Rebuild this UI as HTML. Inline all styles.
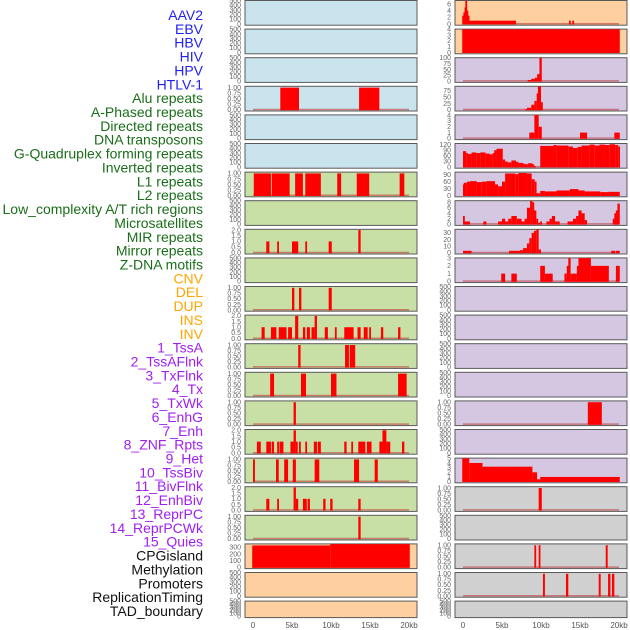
<!DOCTYPE html>
<html><head><meta charset="utf-8"><style>
html,body{margin:0;padding:0;background:#fff;width:630px;height:630px;overflow:hidden}
svg{display:block;font-family:"Liberation Sans",sans-serif}
</style></head><body>
<svg id="chart" width="630" height="630" viewBox="0 0 630 630" xmlns="http://www.w3.org/2000/svg">
<g id="labels"></g>
<g id="panels"></g>
<g id="xaxes"></g>
</svg>
<script>
// ---- labels ----
const trackLabels = ["AAV2","EBV","HBV","HIV","HPV","HTLV-1","Alu repeats","A-Phased repeats","Directed repeats","DNA transposons","G-Quadruplex forming repeats","Inverted repeats","L1 repeats","L2 repeats","Low_complexity A/T rich regions","Microsatellites","MIR repeats","Mirror repeats","Z-DNA motifs","CNV","DEL","DUP","INS","INV","1_TssA","2_TssAFlnk","3_TxFlnk","4_Tx","5_TxWk","6_EnhG","7_Enh","8_ZNF_Rpts","9_Het","10_TssBiv","11_BivFlnk","12_EnhBiv","13_ReprPC","14_ReprPCWk","15_Quies","CPGisland","Methylation","Promoters","ReplicationTiming","TAD_boundary"];
const labelGroups = [6,13,5,15,5];
const xTickValues = [0,5,10,15,20];
const xTickLabels = ["0","5kb","10kb","15kb","20kb"];

// ---- left column data: [startKb, endKb, value] ----
const leftAlu = [[3.5,5.9,1],[13.6,16.2,1]];
const leftL1 = [[0.1,2.3,1],[2.4,4.7,1],[5.4,6.4,1],[6.7,8.7,1],[10.8,11.3,1],[13.3,14.9,1],[18.8,19.4,1]];
const leftRow8 = [[1.7,2.1,1],[3.1,3.3,1],[5.0,5.8,1],[6.7,6.9,1],[9.7,10.1,1],[13.5,13.8,2]];
const leftRow10 = [[5.0,5.3,1],[5.9,6.2,1],[9.7,10.1,1]];
const leftRow11 = [[1.1,1.5,1],[2.3,3.0,1],[3.3,4.3,1],[4.5,5.0,1],[5.4,5.8,2],[6.4,6.7,1],[6.9,7.3,1],[7.5,7.9,1],[7.9,8.2,2],[9.2,9.6,1],[10.5,10.7,1],[11.7,12.9,1],[13.4,13.8,1],[14.2,14.7,1],[14.9,15.1,1],[16.4,16.7,1],[18.6,18.9,1]];
const leftRow12 = [[5.8,6.1,1],[11.8,12.3,1],[12.4,13.1,1]];
const leftRow13 = [[2.2,2.7,1],[6.15,6.8,1],[10.0,10.7,1],[18.6,19.7,1]];
const leftRow14 = [[5.2,5.5,1]];
const leftRow15 = [[0.5,1.0,1],[1.7,2.3,1],[2.4,2.7,1],[3.1,3.3,1],[3.4,3.9,1],[4.8,5.2,1],[5.2,5.5,2],[5.5,5.7,1],[5.9,6.1,1],[6.7,6.9,1],[7.8,8.2,1],[8.3,8.7,1],[11.7,12.0,1],[12.6,12.8,1],[13.5,14.4,1],[14.6,15.2,1],[16.2,16.6,1],[16.6,17.1,2],[17.1,17.6,1],[19.1,19.4,1]];
const leftRow16 = [[0,0.25,1],[2.95,3.3,1],[4.0,4.5,1],[5.1,5.5,1],[7.9,8.5,1],[12.95,13.6,1],[15.6,16.0,1]];
const leftRow17 = [[1.7,2.1,1],[3.1,3.3,1],[5.2,5.5,2],[5.5,5.8,1],[6.4,6.9,1],[7.0,7.3,1],[9.0,9.3,1],[9.9,10.2,1],[13.5,13.8,1]];
const leftRow18 = [[13.5,13.8,1]];
const leftCpg = [[-0.1,9.9,330],[9.9,20.1,350]];

// ---- right column data ----
const rightAav2 = [[-0.1,0.05,2.5],[0.05,0.2,3.5],[0.2,0.3,5],[0.3,0.45,7],[0.45,0.6,4],[0.6,0.77,2.5],[0.77,6.8,1],[13.6,13.8,1],[14.0,14.2,1]];
const rightEbv = [[-0.1,20.1,4]];
const rightHiv = [[8.3,8.75,5],[8.75,9.2,10],[9.2,9.5,15],[9.5,9.8,30],[9.8,10.1,100]];
const rightHpv = [[8.0,8.2,3],[8.2,8.75,8],[8.75,9.15,20],[9.15,9.45,35],[9.45,9.6,65],[9.6,10.0,92],[10.0,10.1,30]];
const rightHtlv = [[8.5,9.15,1],[9.15,9.7,4],[9.7,10.1,2],[15.0,15.9,1],[19.4,20.1,1]];
const rightG4 = [[0,0.4,85],[0.4,0.6,75],[0.6,1.1,70],[1.1,1.7,78],[1.7,2.2,75],[2.2,2.9,78],[2.9,3.4,72],[3.4,3.8,68],[3.8,4.0,75],[4.0,4.3,90],[4.3,5.1,98],[5.1,5.4,40],[5.4,5.7,30],[5.7,6.2,25],[6.2,6.8,35],[6.8,7.1,28],[7.1,7.7,22],[7.7,7.9,18],[7.9,8.3,15],[8.3,8.9,20],[8.9,9.1,15],[9.1,9.3,5],[9.9,11.6,113],[11.6,12.0,118],[12.0,13.5,115],[13.5,14.1,110],[14.1,14.7,102],[14.7,15.2,108],[15.2,16.2,115],[16.2,16.9,120],[16.9,17.5,115],[17.5,18.2,120],[18.2,18.8,118],[18.8,19.5,122],[19.5,19.9,118],[19.9,20.1,110]];
const rightInverted = [[0,0.1,48],[0.1,0.5,55],[0.5,0.9,60],[0.9,1.75,62],[1.75,2.4,58],[2.4,3.0,60],[3.0,4.1,62],[4.1,4.5,48],[4.5,5.0,40],[5.0,5.4,60],[5.4,6.7,95],[6.7,7.1,92],[7.1,8.2,97],[8.2,8.8,95],[8.8,9.2,70],[9.2,9.4,60],[9.4,9.9,10],[9.9,10.5,20],[10.5,12.0,18],[12.0,13.7,22],[13.7,14.8,28],[14.8,15.6,22],[15.6,17.6,18],[17.6,18.6,15],[18.6,20.1,16]];
const rightLowComplexity = [[0,0.2,3],[0.2,0.9,1],[2.6,3.0,1],[4.5,5.0,1],[5.0,5.4,2],[5.4,5.8,1],[5.8,6.2,2],[6.2,6.9,3],[6.9,7.5,2],[7.5,7.9,1],[7.9,8.2,2],[8.2,8.6,6],[8.6,8.9,8.5],[8.9,9.1,8],[9.1,9.4,5],[9.4,9.6,2],[9.6,9.9,0.5],[9.9,10.1,1],[10.7,11.1,1],[11.1,11.4,2],[11.4,11.8,3],[11.8,12.4,1],[13.4,14.1,1],[14.1,14.5,2],[14.5,14.8,3],[14.8,15.2,5],[15.2,15.6,4],[15.6,15.9,1.5],[19.2,19.4,2],[19.4,19.6,4],[19.6,19.8,5],[19.8,20.1,7.5]];
const rightMir = [[0,1.1,3],[5.9,7.3,3],[7.3,7.7,4],[7.7,8.2,7],[8.2,8.5,14],[8.5,8.8,22],[8.8,9.1,30],[9.1,9.4,33],[9.4,9.7,35],[9.7,10.0,5],[19.0,19.5,3],[19.6,20.1,3]];
const rightMirror = [[4.9,5.4,1],[6.2,6.9,1],[9.9,10.5,2],[10.5,11.5,1],[13.0,13.3,1],[13.3,13.5,2],[13.5,13.8,3],[13.8,14.6,1],[14.6,14.8,2],[14.8,16.4,3],[16.4,18.7,2],[19.6,20.1,2]];
const rightRow14 = [[16.0,17.8,1]];
const rightRow16 = [[-0.1,0.8,5],[0.8,2.5,4],[2.5,8.9,3.2],[8.9,9.5,2],[9.5,9.9,0.5],[9.9,20.1,1]];
const rightRow17 = [[9.7,10.1,1]];
const rightRow19 = [[9.15,9.36,1],[9.7,9.9,1],[18.3,18.55,1]];
const rightRow20 = [[10.25,10.5,1],[13.2,13.5,1],[17.4,17.65,1],[18.6,18.9,1],[19.1,19.4,1]];

const ticks500 = [0,100,200,300,400,500];
const ticks1 = [0,0.25,0.5,0.75,1];
const ticks2 = [0,0.5,1,1.5,2];

const leftTracks = [
 [null,500,ticks500],[null,500,ticks500],[null,500,ticks500],[leftAlu,1.05,ticks1],[null,500,ticks500],[null,500,ticks500],
 [leftL1,1.05,ticks1],[null,500,ticks500],[leftRow8,2.05,ticks2],[null,500,ticks500],[leftRow10,1.05,ticks1],[leftRow11,2.05,ticks2],
 [leftRow12,1.05,ticks1],[leftRow13,1.05,ticks1],[leftRow14,1.05,ticks1],[leftRow15,2.05,ticks2],[leftRow16,1.05,ticks1],[leftRow17,2.05,ticks2],
 [leftRow18,1.05,ticks1],[leftCpg,350,[0,100,200,300]],[null,500,ticks500],[null,500,ticks500]];
const rightTracks = [
 [rightAav2,7,[0,2,4,6]],[rightEbv,4,[0,1,2,3,4]],[rightHiv,100,[0,25,50,75,100]],[rightHpv,92,[0,25,50,75]],[rightHtlv,4,[0,1,2,3,4]],
 [rightG4,125,[0,30,60,90,120]],[rightInverted,100,[0,30,60,90]],[rightLowComplexity,8.5,[0,2,4,6,8]],[rightMir,35,[0,10,20,30]],[rightMirror,3,[0,1,2,3]],
 [null,500,ticks500],[null,500,ticks500],[null,500,ticks500],[null,500,ticks500],[rightRow14,1.05,ticks1],[null,500,ticks500],
 [rightRow16,5,[0,1,2,3,4,5]],[rightRow17,1.05,ticks1],[null,500,ticks500],[rightRow19,1.05,ticks1],[rightRow20,1.05,ticks1],[null,500,ticks500]];

const NS = "http://www.w3.org/2000/svg";
function mk(tag, attrs, parent){const e=document.createElementNS(NS,tag);for(const k in attrs)e.setAttribute(k,attrs[k]);parent.appendChild(e);return e;}

// labels
const labelColors = ["#2222ee","#1a6e1a","#ffa500","#a020f0","#111111"];
const lg = document.getElementById("labels");
let gi = 0, cnt = 0;
trackLabels.forEach((t,i)=>{
  const el = mk("text",{x:203,y:(15+i*13.86+5).toFixed(1),"text-anchor":"end","font-size":"14",fill:labelColors[gi]},lg);
  
  
  el.textContent = t;
  cnt++; if(cnt>=labelGroups[gi]){gi++;cnt=0;}
});

// panels
const pg = document.getElementById("panels");
function xScale(col,kb){return (col===0?253:463)+kb*7.8;}
function rowTop(i){return i*28.6;}
function rowH(i){return i===21?16.5:24.7;}
function fmt(v,ymax){if(ymax<=1.1)return v.toFixed(2);if(ymax<=2.1)return v.toFixed(1);return String(v);}
const bgs = [ i=> i<6?"#c9e4ec":(i<19?"#c8e0a6":"#fecf9f"), i=> i<2?"#fecf9f":(i<17?"#d5c6e2":"#d0d0d0") ];
[leftTracks,rightTracks].forEach((tracks,col)=>{
  const px = col===0?245:455;
  tracks.forEach((tr,i)=>{
    const [data,ymax,ticks]=tr;
    const top=rowTop(i), h=rowH(i), bottom=top+h;
    const yS = v => bottom-0.7 - v/ymax*(h-1.4);
    const g = mk("g",{},pg);
    
    
    mk("rect",{x:px,y:top+0.5,width:172,height:h,fill:bgs[col](i),stroke:"#5a5a5a","stroke-width":1},g);
    ticks.forEach(v=>{
      const t=mk("text",{x:px-4,y:(yS(v)+2.3).toFixed(1),"text-anchor":"end","font-size":"7",fill:"#666"},g);
      
      
      t.textContent=fmt(v,ymax);
    });
    if(data){
      mk("line",{x1:xScale(col,0),x2:xScale(col,20),y1:bottom-1,y2:bottom-1,stroke:"rgba(190,60,60,0.6)","stroke-width":1.5},g);
      data.forEach(d=>{
        const x1=xScale(col,d[0]), x2=xScale(col,d[1]);
        const r=mk("rect",{x:x1.toFixed(2),y:yS(d[2]).toFixed(2),width:Math.max(1.8,x2-x1).toFixed(2),height:(bottom-0.3-yS(d[2])).toFixed(2),fill:"#ff0000"},g);
        
        
      });
    }
  });
});

// x axes
const xg = document.getElementById("xaxes");
[0,1].forEach(col=>{
  xTickValues.forEach((v,k)=>{
    const t=mk("text",{x:xScale(col,v),y:628,"text-anchor":"middle","font-size":"8",fill:"#555"},xg);
    
    
    t.textContent=xTickLabels[k];
  });
});
</script>
</body></html>
